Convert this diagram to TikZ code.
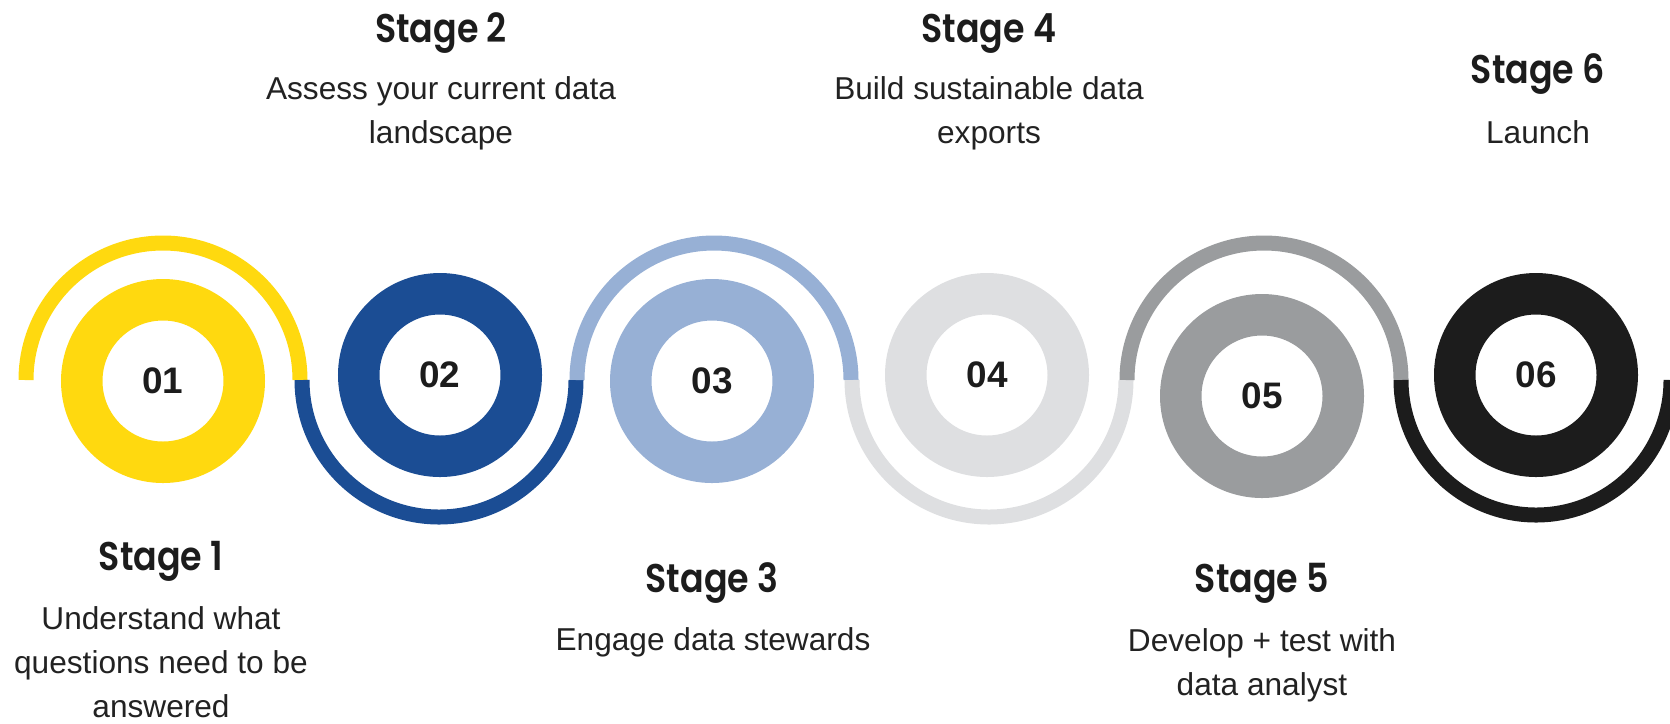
\documentclass[tikz,border=0pt]{standalone}
\usepackage{fontspec}
\setmainfont{Liberation Sans}
\newfontfamily\headfont[FakeStretch=0.87, BoldFont={Poppins SemiBold}]{Poppins}
\definecolor{stageyellow}{HTML}{FFD90F}
\definecolor{stageblue}{HTML}{1B4D94}
\definecolor{stagesky}{HTML}{97B0D5}
\definecolor{stagelight}{HTML}{DEDFE1}
\definecolor{stagegray}{HTML}{9A9C9E}
\definecolor{stageblack}{HTML}{1C1C1C}
\definecolor{textdark}{HTML}{222222}
\tikzset{
  ring/.style={line width=4.15mm},
  track/.style={line width=1.5mm},
  num/.style={font=\bfseries\fontsize{10.5}{12}\selectfont, text=stageblack},
  head/.style={font=\headfont\bfseries\fontsize{11.4}{13}\selectfont, anchor=base, text=stageblack},
  desc/.style={font=\fontsize{9}{12.4}\selectfont, align=center, anchor=base, text=textdark}
}
\begin{document}
\begin{tikzpicture}[x=0.1mm,y=0.1mm]
      \useasboundingbox (0,0) rectangle (1670,-723);
      \clip (0,0) rectangle (1670,-723);
      % winding track
      \draw[track, stageyellow] (26,-380) arc (180:0:137);
      \draw[track, stageblue] (302,-380) arc (180:360:137);
      \draw[track, stagesky] (577,-380) arc (180:0:137);
      \draw[track, stagelight] (852,-380) arc (180:360:137);
      \draw[track, stagegray] (1127,-380) arc (180:0:137);
      \draw[track, stageblack] (1401,-380) arc (180:360:135);
      % rings
      \draw[ring, stageyellow] (163,-381) circle (81.25);
      \draw[ring, stageblue] (440,-375) circle (81.25);
      \draw[ring, stagesky] (712,-381) circle (81.25);
      \draw[ring, stagelight] (987,-375) circle (81.25);
      \draw[ring, stagegray] (1262,-396) circle (81.25);
      \draw[ring, stageblack] (1536,-375) circle (81.25);
      \draw
        (163,-381) node[num] (n1){01}
        (440,-375) node[num] (n2){02}
        (712,-381) node[num] (n3){03}
        (987,-375) node[num] (n4){04}
        (1262,-396) node[num] (n5){05}
        (1536,-375) node[num] (n6){06};
      % stage labels (desc is anchored on its last line)
      \node[head] (h1) at (161,-570) {Stage 1};
      \node[desc] (d1) at (161,-717) {Understand what\\questions need to be\\answered};
      \node[head] (h2) at (441,-42) {Stage 2};
      \node[desc] (d2) at (441,-143) {Assess your current data\\landscape};
      \node[head] (h3) at (712,-592) {Stage 3};
      \node[desc] (d3) at (713,-650) {Engage data stewards};
      \node[head] (h4) at (989,-42) {Stage 4};
      \node[desc] (d4) at (989,-143) {Build sustainable data\\exports};
      \node[head] (h5) at (1262,-592) {Stage 5};
      \node[desc] (d5) at (1262,-695) {Develop + test with\\data analyst};
      \node[head] (h6) at (1538,-83) {Stage 6};
      \node[desc] (d6) at (1538,-143) {Launch};
    \end{tikzpicture}
\end{document}
